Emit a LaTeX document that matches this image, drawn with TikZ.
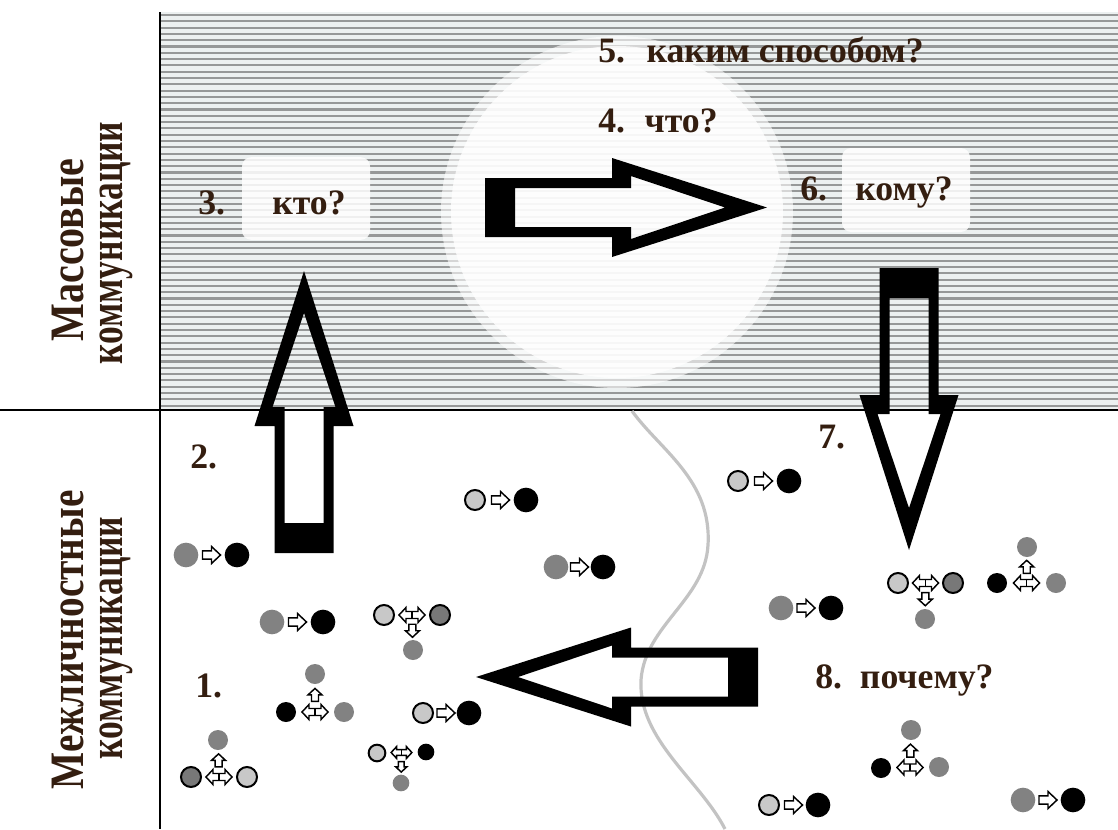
\documentclass[tikz,border=0pt]{standalone}
\usepackage{fontspec}
\setmainfont{Liberation Serif}
\usetikzlibrary{calc}
\definecolor{txt}{RGB}{52,30,16}
\definecolor{stripebg}{RGB}{236,240,240}
\definecolor{stripefg}{RGB}{150,152,152}
\definecolor{midgray}{RGB}{130,130,130}
\definecolor{ltgray}{RGB}{200,200,200}
\definecolor{dkgray}{RGB}{120,120,120}
\definecolor{wave}{RGB}{195,195,195}
\tikzset{
  lbl/.style={font=\bfseries\fontsize{26.8}{30}\selectfont, text=txt, inner sep=0pt},
  vlbl/.style={font=\bfseries\fontsize{36}{40}\selectfont, text=txt, inner sep=0pt, rotate=90, anchor=base},
  qbox/.style={fill=white, fill opacity=0.85, rounded corners=7pt, inner sep=0pt},
  gdot/.style={circle, fill=midgray, inner sep=0pt, minimum size=18.5pt},
  bdot/.style={circle, fill=black, inner sep=0pt, minimum size=18.5pt},
  ldot/.style={circle, fill=ltgray, draw=black, line width=1.5pt, inner sep=0pt, minimum size=15pt},
  ddot/.style={circle, fill=dkgray, draw=black, line width=1.5pt, inner sep=0pt, minimum size=15pt},
  small/.style={minimum size=15pt},
  tiny/.style={minimum size=12.5pt},
  sa/.style={draw=black, fill=white, line width=1.1pt, line join=miter},
  bigarrow/.pic={
    \fill[black, even odd rule]
      (0,-29.5) -- (127,-29.5) -- (127,-49.5) -- (282,0) -- (127,49.5) -- (127,29.5) -- (0,29.5) -- cycle
      (30,-19.5) -- (146,-19.5) -- (146,-31.5) -- (240,0) -- (146,31.5) -- (146,19.5) -- (30,19.5) -- cycle;
  },
  sarrow/.pic={
    \draw[sa] (-9,-4.2) -- (0,-4.2) -- (0,-8.5) -- (9,0) -- (0,8.5) -- (0,4.2) -- (-9,4.2) -- cycle;
  },
  tarrow/.pic={
    \draw[sa] (-6.5,-3.5) -- (0,-3.5) -- (0,-7) -- (6.5,0) -- (0,7) -- (0,3.5) -- (-6.5,3.5) -- cycle;
  },
  darrow/.pic={
    \draw[sa] (-13,0) -- (-6,-7.5) -- (-6,-3.5) -- (6,-3.5) -- (6,-7.5) -- (13,0) -- (6,7.5) -- (6,3.5) -- (-6,3.5) -- (-6,7.5) -- cycle;
    \draw[line width=1.1pt] (0,-3.5) -- (0,3.5);
  }
}
\begin{document}
\begin{tikzpicture}[x=0.75pt,y=-0.75pt]
\useasboundingbox (0,0) rectangle (1118,829);
% striped upper field
\fill[stripebg] (160,12) rectangle (1118,410);
\foreach \k in {0,...,62} \draw[stripefg, line width=1.6pt] (160,{15+6.3*\k}) -- (1118,{15+6.3*\k});
% white circle
\fill[white, fill opacity=0.6] (617,212) circle (176);
\fill[white, fill opacity=0.8] (617,212) circle (166);
% question boxes
\node[qbox, minimum width=96pt, minimum height=62pt] (ktobox) at (306,198.5) {};
\node[qbox, minimum width=96pt, minimum height=63pt] (komubox) at (906,190) {};
% frame lines
\draw[line width=2.2pt] (160,12) -- (160,829);
\draw[line width=2pt] (0,410) -- (1118,410);
% wave
\draw[wave, line width=2.4pt] (632,411) .. controls (660,450) and (712,480) .. (708,545)
  .. controls (705,600) and (645,625) .. (641,680) .. controls (638,740) and (700,780) .. (725,829);
% big arrows
\coordinate (a1) at (485,207.5);
\coordinate (a2) at (304,553);
\coordinate (a3) at (909,268);
\coordinate (a4) at (758,677);
\pic at (a1) {bigarrow};
\pic[rotate=90] at (a2) {bigarrow};
\pic[rotate=-90] at (a3) {bigarrow};
\pic[rotate=180] at (a4) {bigarrow};
% side labels
\node[vlbl] (m1) at (83,250) {\scalebox{0.834}[1]{Массовые}};
\node[vlbl] (m2) at (122,243) {\scalebox{0.739}[1]{коммуникации}};
\node[vlbl] (i1) at (83,640) {\scalebox{0.818}[1]{Межличностные}};
\node[vlbl] (i2) at (122,638) {\scalebox{0.739}[1]{коммуникации}};
% question labels
\node[lbl, anchor=base west] (q5) at (598,62) {5.\hspace{0.6em}каким способом?};
\node[lbl, anchor=base west] (q4) at (598,132) {4.\hspace{0.55em}что?};
\node[lbl, anchor=base west] (n3) at (198,214) {3.};
\node[lbl, anchor=base west] (q3) at (272,214) {кто?};
\node[lbl, anchor=base west] (n6) at (800,200) {6.};
\node[lbl, anchor=base west] (q6) at (855,200) {кому?};
\node[lbl, anchor=base west] (n2) at (190,468) {2.};
\node[lbl, anchor=base west] (n1) at (195,697) {1.};
\node[lbl, anchor=base west] (n7) at (818,448) {7.};
\node[lbl, anchor=base west] (q8) at (815,688) {8.\hspace{0.5em}почему?};
% pairs
\foreach \n/\sa/\ta/\xa/\xb/\yy in {
  p1/gdot/bdot/186/237/555,
  p2/gdot/bdot/272/323/622,
  p3/ldot/bdot/423/469/713,
  p4/ldot/bdot/475/526/500,
  p5/gdot/bdot/556/603/567,
  p6/ldot/bdot/738/789/481,
  p7/gdot/bdot/781/831/608,
  p8/ldot/bdot/769/818/805,
  p9/gdot/bdot/1023/1073/800}{
  \node[\sa] (\n a) at (\xa,\yy) {};
  \node[\ta] (\n b) at (\xb,\yy) {};
  \pic at ($(\n a)!0.5!(\n b)$) {sarrow};
}
% triads with a downward arrow
\foreach \n/\ls/\rs/\lx/\ly/\rx/\ry/\bx/\by in {
  t1/ldot/ddot/384/615/440/615/413/650,
  t5/ldot/ddot/898/583/953/583/925/619}{
  \node[\ls] (\n l) at (\lx,\ly) {};
  \node[\rs] (\n r) at (\rx,\ry) {};
  \node[gdot, small] (\n b) at (\bx,\by) {};
  \coordinate (\n m) at ($(\n l)!0.5!(\n r)$);
  \pic at (\n m) {darrow};
  \pic[rotate=-90] at ($(\n m)!0.45!(\n b)$) {tarrow};
}
% small triad
\node[ldot, tiny] (t3l) at (377,753) {};
\node[bdot, tiny] (t3r) at (426,752) {};
\node[gdot, tiny] (t3b) at (401,783) {};
\coordinate (t3m) at ($(t3l)!0.5!(t3r)$);
\pic[scale=0.8] at (t3m) {darrow};
\pic[rotate=-90, scale=0.8] at ($(t3m)!0.47!(t3b)$) {tarrow};
% triads with an upward arrow
\foreach \n/\ls/\rs/\lx/\ly/\rx/\ry/\tx/\ty in {
  t2/bdot/gdot/286/712/344/712/315/674,
  t4/ddot/ldot/191/777/247/777/218/740,
  t6/bdot/gdot/997/583/1056/583/1027/547,
  t7/bdot/gdot/881/768/939/767/911/730}{
  \node[\ls, small] (\n l) at (\lx,\ly) {};
  \node[\rs, small] (\n r) at (\rx,\ry) {};
  \node[gdot, small] (\n t) at (\tx,\ty) {};
  \coordinate (\n m) at ($(\n l)!0.5!(\n r)$);
  \pic at (\n m) {darrow};
  \pic[rotate=90] at ($(\n m)!0.45!(\n t)$) {tarrow};
}
\end{tikzpicture}
\end{document}
